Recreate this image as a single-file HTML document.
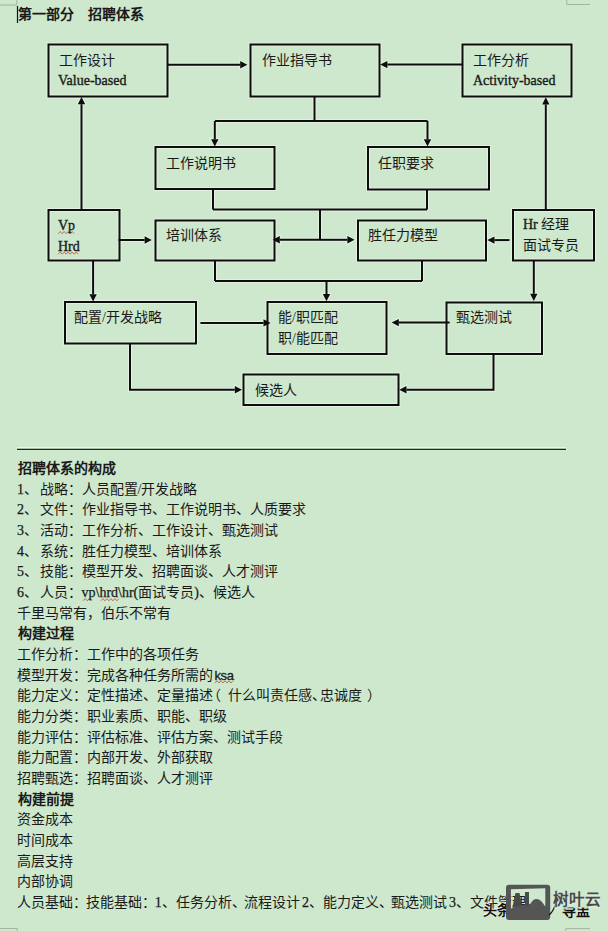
<!DOCTYPE html>
<html lang="zh-CN"><head><meta charset="utf-8"><style>
html,body{margin:0;padding:0;}
body{width:608px;height:931px;overflow:hidden;background:#cde8cc;position:relative;font-family:"Liberation Serif",serif;font-size:14px;color:#1a1a1a;}
svg{position:absolute;left:0;top:0;}
svg rect, svg polyline{fill:none;stroke:#0d0d0d;stroke-width:2;}
svg .ah{fill:#0d0d0d;stroke:none;}
svg .cm polyline{stroke:#a3b6a2;stroke-width:1;fill:none;}
svg .halo rect, svg .halo polyline{stroke:#e2f1e0;stroke-width:4;}
svg .halo .ah{fill:#e2f1e0;stroke:#e2f1e0;stroke-width:2;}
.t{position:absolute;white-space:nowrap;line-height:20px;}
.lat{font-family:"Liberation Serif",serif;}
.t .lat{-webkit-text-stroke:0.35px #1a1a1a;}
#body .lat{-webkit-text-stroke:0.25px #1a1a1a;}
svg .sqz{stroke:#b8604a;stroke-width:1;fill:none;opacity:.9;}
#body{position:absolute;left:17px;top:459px;line-height:20.68px;white-space:nowrap;}
#body div{height:20.68px;}
b{font-weight:bold;}
.hb{position:relative;left:1px;}
.nm{margin-right:1.5px;}
.lp{position:relative;left:-6px;margin-right:1px;}
.rp{position:relative;left:5px;}
.cd{letter-spacing:-6.5px;}
#body div{position:relative;}
.sg{position:absolute;top:0;}
.ks{font-family:"Liberation Sans",sans-serif;font-size:13px;margin-left:1.5px;letter-spacing:-0.4px;-webkit-text-stroke:0.3px #1a1a1a;}
.wmt{position:absolute;white-space:nowrap;font-size:15px;line-height:20px;font-weight:bold;}
</style></head><body>
<svg width="608" height="931" viewBox="0 0 608 931">
<g class="halo"><rect x="48.5" y="44.5" width="119.0" height="52.0"/>
<rect x="250.5" y="44.5" width="129.0" height="52.0"/>
<rect x="462.5" y="44.5" width="109.0" height="52.0"/>
<rect x="155.5" y="147" width="119.0" height="42"/>
<rect x="368" y="147" width="121" height="42.5"/>
<rect x="48.5" y="210" width="71.0" height="50.5"/>
<rect x="155.5" y="220.5" width="119.0" height="40.0"/>
<rect x="358" y="220.5" width="128" height="40.0"/>
<rect x="513" y="210" width="81" height="50.5"/>
<rect x="65" y="302" width="131" height="41.5"/>
<rect x="267.5" y="302" width="119.0" height="52"/>
<rect x="446.5" y="302.5" width="95.5" height="51.5"/>
<rect x="243.5" y="374.5" width="155.0" height="30.5"/>
<polyline points="314.5,96.5 314.5,121"/>
<polyline points="215,121 427.5,121"/>
<polyline points="213,189 213,209.5"/>
<polyline points="427,189.5 427,209.5"/>
<polyline points="213,209.5 427,209.5"/>
<polyline points="320,209.5 320,240"/>
<polyline points="215,260.5 215,281"/>
<polyline points="422,260.5 422,281"/>
<polyline points="215,281 422,281"/>
<polyline points="167.50,64.80 240.20,64.80"/>
<polygon class="ah" points="247.40,64.80 240.20,68.50 240.20,61.10"/>
<polyline points="462.50,64.60 387.40,64.60"/>
<polygon class="ah" points="380.20,64.60 387.40,60.90 387.40,68.30"/>
<polyline points="214.80,121.00 214.80,139.30"/>
<polygon class="ah" points="214.80,146.50 211.10,139.30 218.50,139.30"/>
<polyline points="427.50,121.00 427.50,139.30"/>
<polygon class="ah" points="427.50,146.50 423.80,139.30 431.20,139.30"/>
<polyline points="320.00,239.80 279.80,239.80"/>
<polygon class="ah" points="272.60,239.80 279.80,236.10 279.80,243.50"/>
<polyline points="320.00,239.80 347.40,239.80"/>
<polygon class="ah" points="354.60,239.80 347.40,243.50 347.40,236.10"/>
<polyline points="326.50,281.00 326.50,294.00"/>
<polygon class="ah" points="326.50,301.20 322.80,294.00 330.20,294.00"/>
<polyline points="81.50,210.00 81.50,104.20"/>
<polygon class="ah" points="81.50,97.00 85.20,104.20 77.80,104.20"/>
<polyline points="118.40,240.00 144.60,240.00"/>
<polygon class="ah" points="151.80,240.00 144.60,243.70 144.60,236.30"/>
<polyline points="93.10,260.50 93.10,294.20"/>
<polygon class="ah" points="93.10,301.40 89.40,294.20 96.80,294.20"/>
<polyline points="545.80,210.00 545.80,104.40"/>
<polygon class="ah" points="545.80,97.20 549.50,104.40 542.10,104.40"/>
<polyline points="509.50,240.10 494.50,240.10"/>
<polygon class="ah" points="487.30,240.10 494.50,236.40 494.50,243.80"/>
<polyline points="533.80,260.50 533.80,293.80"/>
<polygon class="ah" points="533.80,301.00 530.10,293.80 537.50,293.80"/>
<polyline points="200.40,322.90 263.50,322.90"/>
<polygon class="ah" points="270.70,322.90 263.50,326.60 263.50,319.20"/>
<polyline points="449.70,322.60 398.80,322.60"/>
<polygon class="ah" points="391.60,322.60 398.80,318.90 398.80,326.30"/>
<polyline points="130.00,343.50 130.00,389.70 234.80,389.70"/>
<polygon class="ah" points="242.00,389.70 234.80,393.40 234.80,386.00"/>
<polyline points="493.50,354.00 493.50,389.70 406.50,389.70"/>
<polygon class="ah" points="399.30,389.70 406.50,386.00 406.50,393.40"/></g>
<rect x="48.5" y="44.5" width="119.0" height="52.0"/>
<rect x="250.5" y="44.5" width="129.0" height="52.0"/>
<rect x="462.5" y="44.5" width="109.0" height="52.0"/>
<rect x="155.5" y="147" width="119.0" height="42"/>
<rect x="368" y="147" width="121" height="42.5"/>
<rect x="48.5" y="210" width="71.0" height="50.5"/>
<rect x="155.5" y="220.5" width="119.0" height="40.0"/>
<rect x="358" y="220.5" width="128" height="40.0"/>
<rect x="513" y="210" width="81" height="50.5"/>
<rect x="65" y="302" width="131" height="41.5"/>
<rect x="267.5" y="302" width="119.0" height="52"/>
<rect x="446.5" y="302.5" width="95.5" height="51.5"/>
<rect x="243.5" y="374.5" width="155.0" height="30.5"/>
<polyline points="314.5,96.5 314.5,121"/>
<polyline points="215,121 427.5,121"/>
<polyline points="213,189 213,209.5"/>
<polyline points="427,189.5 427,209.5"/>
<polyline points="213,209.5 427,209.5"/>
<polyline points="320,209.5 320,240"/>
<polyline points="215,260.5 215,281"/>
<polyline points="422,260.5 422,281"/>
<polyline points="215,281 422,281"/>
<polyline points="167.50,64.80 240.20,64.80"/>
<polygon class="ah" points="247.40,64.80 240.20,68.50 240.20,61.10"/>
<polyline points="462.50,64.60 387.40,64.60"/>
<polygon class="ah" points="380.20,64.60 387.40,60.90 387.40,68.30"/>
<polyline points="214.80,121.00 214.80,139.30"/>
<polygon class="ah" points="214.80,146.50 211.10,139.30 218.50,139.30"/>
<polyline points="427.50,121.00 427.50,139.30"/>
<polygon class="ah" points="427.50,146.50 423.80,139.30 431.20,139.30"/>
<polyline points="320.00,239.80 279.80,239.80"/>
<polygon class="ah" points="272.60,239.80 279.80,236.10 279.80,243.50"/>
<polyline points="320.00,239.80 347.40,239.80"/>
<polygon class="ah" points="354.60,239.80 347.40,243.50 347.40,236.10"/>
<polyline points="326.50,281.00 326.50,294.00"/>
<polygon class="ah" points="326.50,301.20 322.80,294.00 330.20,294.00"/>
<polyline points="81.50,210.00 81.50,104.20"/>
<polygon class="ah" points="81.50,97.00 85.20,104.20 77.80,104.20"/>
<polyline points="118.40,240.00 144.60,240.00"/>
<polygon class="ah" points="151.80,240.00 144.60,243.70 144.60,236.30"/>
<polyline points="93.10,260.50 93.10,294.20"/>
<polygon class="ah" points="93.10,301.40 89.40,294.20 96.80,294.20"/>
<polyline points="545.80,210.00 545.80,104.40"/>
<polygon class="ah" points="545.80,97.20 549.50,104.40 542.10,104.40"/>
<polyline points="509.50,240.10 494.50,240.10"/>
<polygon class="ah" points="487.30,240.10 494.50,236.40 494.50,243.80"/>
<polyline points="533.80,260.50 533.80,293.80"/>
<polygon class="ah" points="533.80,301.00 530.10,293.80 537.50,293.80"/>
<polyline points="200.40,322.90 263.50,322.90"/>
<polygon class="ah" points="270.70,322.90 263.50,326.60 263.50,319.20"/>
<polyline points="449.70,322.60 398.80,322.60"/>
<polygon class="ah" points="391.60,322.60 398.80,318.90 398.80,326.30"/>
<polyline points="130.00,343.50 130.00,389.70 234.80,389.70"/>
<polygon class="ah" points="242.00,389.70 234.80,393.40 234.80,386.00"/>
<polyline points="493.50,354.00 493.50,389.70 406.50,389.70"/>
<polygon class="ah" points="399.30,389.70 406.50,386.00 406.50,393.40"/>
<polyline class="sqz" points="58.2,233.7 60.2,231.5 62.2,233.7 64.2,231.5 66.2,233.7 68.2,231.5 70.2,233.7 72.2,231.5 74.2,233.7"/>
<polyline class="sqz" points="58.2,254.2 60.2,252.0 62.2,254.2 64.2,252.0 66.2,254.2 68.2,252.0 70.2,254.2 72.2,252.0 74.2,254.2 76.2,252.0 78.2,254.2"/>
<polyline class="sqz" points="83.2,600.8 85.2,598.6 87.2,600.8 89.2,598.6 91.2,600.8"/>
<polyline class="sqz" points="100.9,600.8 102.9,598.6 104.9,600.8 106.9,598.6 108.9,600.8 110.9,598.6 112.9,600.8 114.9,598.6 116.9,600.8 118.9,598.6"/>
<polyline class="sqz" points="215.0,683.0 217.0,680.8 219.0,683.0 221.0,680.8 223.0,683.0 225.0,680.8 227.0,683.0 229.0,680.8 231.0,683.0 233.0,680.8"/>
<g class="cm">
<polyline points="0,5 16.8,5 16.8,0"/>
<polyline points="566.8,0 566.8,4.5 590,4.5"/>
<polyline points="0,928.5 17.4,928.5 17.4,931"/>
<polyline points="590,928.6 565.7,928.6 565.7,931"/>
</g>
<line x1="17.5" y1="6" x2="17.5" y2="23" stroke="#111" stroke-width="1.2"/>
<line x1="17" y1="447.6" x2="566" y2="447.6" stroke="#e9f6e8" stroke-width="1.2"/>
<line x1="17" y1="449.4" x2="566" y2="449.4" stroke="#1c2c1c" stroke-width="1.3"/>
</svg>
<div class="t" style="left:18px;top:5px;font-weight:bold">第一部分　招聘体系</div>
<div class="t" style="left:59px;top:51px">工作设计</div>
<div class="t" style="left:58px;top:71px"><span class="lat">Value-based</span></div>
<div class="t" style="left:262px;top:51px">作业指导书</div>
<div class="t" style="left:473px;top:51px">工作分析</div>
<div class="t" style="left:473px;top:71px"><span class="lat">Activity-based</span></div>
<div class="t" style="left:166px;top:154px">工作说明书</div>
<div class="t" style="left:378px;top:154px">任职要求</div>
<div class="t" style="left:58px;top:216px"><span class="lat">Vp</span></div>
<div class="t" style="left:58px;top:237px"><span class="lat">Hrd</span></div>
<div class="t" style="left:166px;top:226px">培训体系</div>
<div class="t" style="left:368px;top:226px">胜任力模型</div>
<div class="t" style="left:523px;top:215px"><span class="lat">Hr</span> 经理</div>
<div class="t" style="left:523px;top:236px">面试专员</div>
<div class="t" style="left:74px;top:308px">配置/开发战略</div>
<div class="t" style="left:278px;top:308px">能/职匹配</div>
<div class="t" style="left:278px;top:329px">职/能匹配</div>
<div class="t" style="left:456px;top:308px">甄选测试</div>
<div class="t" style="left:255px;top:381px">候选人</div>
<div id="body">
<div><b class="hb">招聘体系的构成</b></div>
<div><span class="lat">1</span><span class="nm">、</span>战略：人员配置/开发战略</div>
<div><span class="lat">2</span><span class="nm">、</span>文件：作业指导书、工作说明书、人质要求</div>
<div><span class="lat">3</span><span class="nm">、</span>活动：工作分析、工作设计、甄选测试</div>
<div><span class="lat">4</span><span class="nm">、</span>系统：胜任力模型、培训体系</div>
<div><span class="lat">5</span><span class="nm">、</span>技能：模型开发、招聘面谈、人才测评</div>
<div><span class="lat">6</span><span class="nm">、</span>人员：<span class="lat sq">vp\hrd\hr</span><span class="lat">(</span>面试专员<span class="lat">)</span>、候选人</div>
<div>千里马常有，伯乐不常有</div>
<div><b class="hb">构建过程</b></div>
<div>工作分析：工作中的各项任务</div>
<div>模型开发：完成各种任务所需的<span class="ks">ksa</span></div>
<div>能力定义：定性描述、定量描述<span class="lp">（</span>什么叫责任感<span class="cd">、</span>忠诚度<span class="rp">）</span></div>
<div>能力分类：职业素质、职能、职级</div>
<div>能力评估：评估标准、评估方案、测试手段</div>
<div>能力配置：内部开发、外部获取</div>
<div>招聘甄选：招聘面谈、人才测评</div>
<div><b class="hb">构建前提</b></div>
<div>资金成本</div>
<div>时间成本</div>
<div>高层支持</div>
<div>内部协调</div>
<div><span class="sg" style="left:0.1px">人员基础：</span><span class="sg" style="left:69.1px">技能基础：</span><span class="sg" style="left:137.8px"><span class="lat">1</span>、</span><span class="sg" style="left:158.5px">任务分析、</span><span class="sg" style="left:226.8px">流程设计</span><span class="sg" style="left:285.0px"><span class="lat">2</span>、</span><span class="sg" style="left:306.1px">能力定义、</span><span class="sg" style="left:374.4px">甄选测试</span><span class="sg" style="left:432.0px"><span class="lat">3</span>、</span><span class="sg" style="left:452.7px">文件管理</span></div>
</div>
<div class="wmt" style="left:483px;top:901px;color:#111;font-size:14px;text-shadow:0 0 1px #fff,0 -1px 1px #fff">头条</div>
<div class="wmt" style="left:562px;top:902px;color:#111;font-size:14px;text-shadow:0 0 1px #fff;clip-path:inset(5.5px 0 0 0)">导盅</div>
<svg id="wm" width="608" height="931" viewBox="0 0 608 931" style="position:absolute;left:0;top:0">
<path d="M509,884.8 h38.2 a3,3 0 0 1 3,3 v29.2 a3,3 0 0 1 -3,3 h-38.2 a3,3 0 0 1 -3,-3 v-29.2 a3,3 0 0 1 3,-3 z M510.9,889.2 v19.5 l3,-2 l3,-5 l2.5,4 l3,-1 c3,-0.5 6,0 8,-1 c2,-3 3.5,-4.8 6,-4.8 c3.5,0 6,3 8.9,7.5 v-18.2 z" fill="#555555" fill-rule="evenodd"/>
<path d="M549,915 q6,-5 7,-15" stroke="#111" stroke-width="1.3" fill="none"/>
<path d="M512.5,907 L515.5,893 L519.5,893 L522,906 Z M525,892 h4 v14 h-4 z" fill="#4a4a4a"/>
</svg>
<div class="wmt" style="left:553px;top:890px;color:#4a4a4a;font-size:15.5px;font-weight:bold;text-shadow:0 0 2px #dcefdb,0 1px 2px #dcefdb,0 2px 2px #dcefdb">树叶云</div>
</body></html>
